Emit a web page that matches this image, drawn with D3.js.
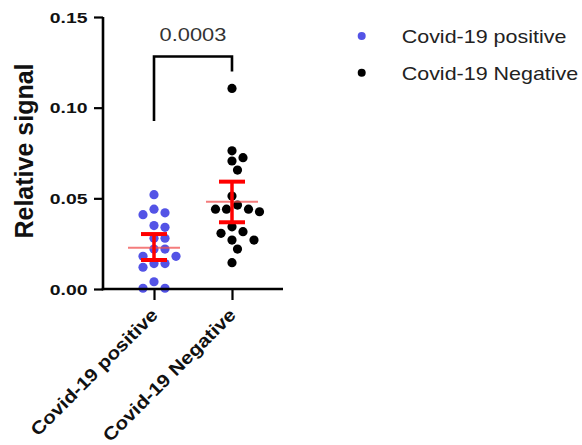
<!DOCTYPE html>
<html>
<head>
<meta charset="utf-8">
<script src="https://cdn.jsdelivr.net/npm/d3@7"></script>
<style>
  html, body { margin: 0; padding: 0; background: #fff; }
  svg { display: block; }
  text { font-family: "Liberation Sans", Arial, sans-serif; }
</style>
</head>
<body>
<svg id="chart" width="582" height="445"></svg>
<script>
// ---------------- data ----------------
const categories = ["Covid-19 positive", "Covid-19 Negative"];
const positiveValues = [0.052, 0.044, 0.042, 0.041, 0.035, 0.034, 0.028, 0.028, 0.022,
                        0.022, 0.018, 0.018, 0.014, 0.014, 0.012, 0.004, 0.0004, 0.0004];
const negativeValues = [0.1106, 0.0762, 0.0724, 0.0706, 0.0656, 0.0513, 0.0463, 0.044, 0.044,
                        0.044, 0.0426, 0.0343, 0.0316, 0.0307, 0.027, 0.027, 0.022, 0.0145];
const groupMeans = [0.0228, 0.0481];
const groupLower = [0.0160, 0.0368];
const groupUpper = [0.0303, 0.0592];
const yTicks = [0.00, 0.05, 0.10, 0.15];
const yTickLabels = ["0.00", "0.05", "0.10", "0.15"];
const pValueLabel = "0.0003";
const bracketLegEnds = [0.0926, 0.1200];   // where bracket legs stop (data units)
const bracketTop = 0.1282;
const yAxisTitle = "Relative signal";
const seriesColors = ["#5353e6", "#000000"];

// ---------------- layout ----------------
const svg = d3.select("#chart");
const axisX0 = 103, axisX1 = 283, axisY0 = 289, axisY1 = 17;

const y = d3.scaleLinear().domain([0, 0.15]).range([axisY0, axisY1]);
const x = d3.scalePoint().domain(categories).range([axisX0, axisX1]).padding(0.654);

const groups = [positiveValues, negativeValues];
const R = 4.6, GRID = 5.5, MIN_DIST = 10;

// grid beeswarm placement (collision based, offsets on a half-dot grid)
function swarm(values, cx) {
  const sorted = values.map((v, i) => ({ v, i })).sort((a, b) => b.v - a.v);
  const placed = [];
  sorted.forEach(p => {
    const py = y(p.v);
    let best = null;
    for (let k = 0; k <= 12 && best === null; k++) {
      const cands = k === 0 ? [0] : [k * GRID, -k * GRID];
      for (const off of cands) {
        const px = cx + off;
        const ok = placed.every(q => (q.x - px) ** 2 + (q.y - py) ** 2 >= MIN_DIST * MIN_DIST);
        if (ok) { best = px; break; }
      }
    }
    placed.push({ x: best, y: py, v: p.v });
  });
  return placed;
}

// ---------------- points ----------------
groups.forEach((vals, gi) => {
  const pts = swarm(vals, x(categories[gi]));
  svg.append("g").selectAll("circle").data(pts).join("circle")
    .attr("cx", d => d.x).attr("cy", d => d.y).attr("r", R)
    .attr("fill", seriesColors[gi]);
});

// ---------------- mean & error bars ----------------
categories.forEach((c, gi) => {
  const cx = x(c);
  const g = svg.append("g");
  g.append("line")
    .attr("x1", cx - 26).attr("x2", cx + 26)
    .attr("y1", y(groupMeans[gi])).attr("y2", y(groupMeans[gi]))
    .attr("stroke", "#f05050").attr("stroke-opacity", 0.75).attr("stroke-width", 2);
  g.append("line")
    .attr("x1", cx).attr("x2", cx)
    .attr("y1", y(groupLower[gi])).attr("y2", y(groupUpper[gi]))
    .attr("stroke", "#ff0000").attr("stroke-width", 3.5);
  [groupLower[gi], groupUpper[gi]].forEach(v => {
    g.append("line")
      .attr("x1", cx - 13).attr("x2", cx + 13)
      .attr("y1", y(v)).attr("y2", y(v))
      .attr("stroke", "#ff0000").attr("stroke-width", 4);
  });
});

// ---------------- axes ----------------
const yAxis = d3.axisLeft(y).tickValues(yTicks).tickSize(9).tickFormat("");
const yG = svg.append("g").attr("transform", `translate(${axisX0},0)`).call(yAxis);
yG.select(".domain").attr("stroke", "#000").attr("stroke-width", 2.6)
  .attr("d", `M0,${axisY1}V${axisY0 + 1.3}`);
yG.selectAll(".tick line").attr("stroke", "#000").attr("stroke-width", 2.2);

yTicks.forEach((t, i) => {
  svg.append("g")
    .attr("transform", `translate(87.5,${y(t)}) scale(1.25,1)`)
    .append("text")
    .attr("text-anchor", "end").attr("dy", "0.36em")
    .attr("font-size", 15.5).attr("font-weight", "bold").attr("fill", "#111")
    .text(yTickLabels[i]);
});

const xAxis = d3.axisBottom(x).tickSize(11).tickFormat("");
const xG = svg.append("g").attr("transform", `translate(0,${axisY0})`).call(xAxis);
xG.select(".domain").attr("stroke", "#000").attr("stroke-width", 2.6)
  .attr("d", `M${axisX0 - 1.3},0H${axisX1}`);
xG.selectAll(".tick line").attr("stroke", "#000").attr("stroke-width", 2.2);

categories.forEach(c => {
  svg.append("g")
    .attr("transform", `translate(${x(c) + 5},316) rotate(-45) scale(1.15,1)`)
    .append("text")
    .attr("text-anchor", "end")
    .attr("font-size", 18).attr("font-weight", "bold").attr("fill", "#111")
    .text(c);
});

// y axis title
svg.append("text")
  .attr("transform", `translate(33,151) rotate(-90)`)
  .attr("text-anchor", "middle")
  .attr("font-size", 25).attr("font-weight", "bold").attr("fill", "#111")
  .text(yAxisTitle);

// ---------------- significance bracket ----------------
const bx0 = x(categories[0]), bx1 = x(categories[1]);
svg.append("path")
  .attr("d", `M${bx0},${y(bracketLegEnds[0])}V${y(bracketTop)}H${bx1}V${y(bracketLegEnds[1])}`)
  .attr("fill", "none").attr("stroke", "#000").attr("stroke-width", 2.6);
svg.append("g")
  .attr("transform", `translate(${(bx0 + bx1) / 2},40.7) scale(1.15,1)`)
  .append("text")
  .attr("text-anchor", "middle")
  .attr("font-size", 19).attr("fill", "#333")
  .text(pValueLabel);

// ---------------- legend ----------------
categories.forEach((c, i) => {
  const ly = 36 + i * 36.7;
  svg.append("circle").attr("cx", 361.7).attr("cy", ly).attr("r", 4)
    .attr("fill", seriesColors[i]);
  svg.append("g")
    .attr("transform", `translate(401.7,${ly + 6.8}) scale(1.13,1)`)
    .append("text")
    .attr("font-size", 19).attr("fill", "#222")
    .text(c);
});
</script>
</body>
</html>
